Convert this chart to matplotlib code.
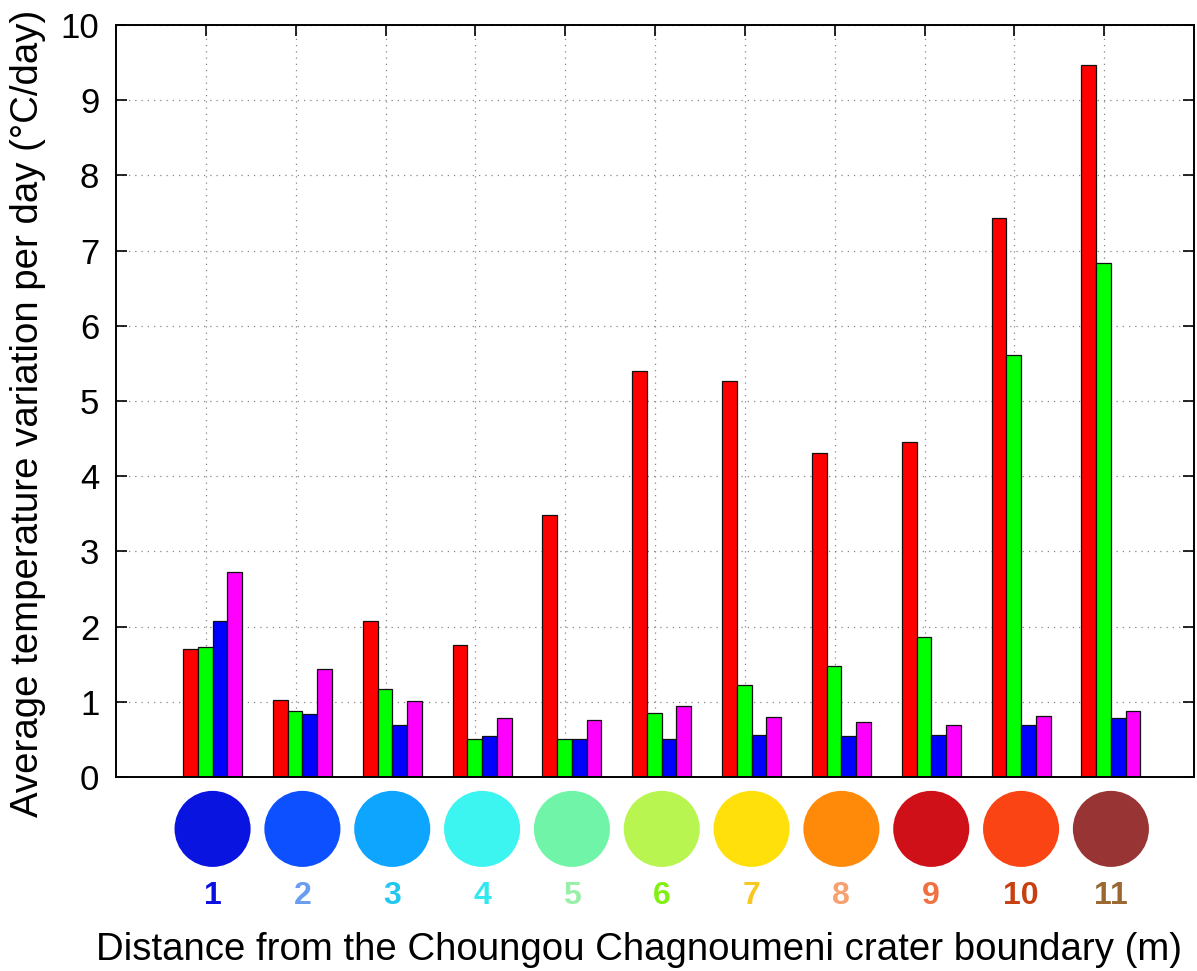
import numpy as np
import matplotlib
matplotlib.use("Agg")
import matplotlib.pyplot as plt

plt.rcParams['font.family'] = ['Liberation Sans', 'DejaVu Sans']

# ---- data ----
distances = [1, 2, 3, 4, 5, 6, 7, 8, 9, 10, 11]
series_red = [1.70, 1.02, 2.08, 1.75, 3.49, 5.40, 5.27, 4.31, 4.46, 7.44, 9.47]
series_green = [1.73, 0.88, 1.17, 0.51, 0.51, 0.85, 1.23, 1.47, 1.86, 5.61, 6.84]
series_blue = [2.07, 0.84, 0.69, 0.55, 0.50, 0.51, 0.565, 0.54, 0.565, 0.685, 0.78]
series_magenta = [2.73, 1.44, 1.01, 0.79, 0.76, 0.94, 0.80, 0.73, 0.685, 0.81, 0.88]
series_colors = ['#ff0000', '#00ff00', '#0000ff', '#ff00ff']
circle_colors = ['#0a14e0', '#0d50ff', '#0ea5ff', '#3cf5f0', '#70f5a8', '#b8f550',
                 '#ffe00a', '#ff8a0a', '#d01018', '#fa4414', '#983434']
label_colors = ['#0a10e0', '#6a9cf0', '#20c8f0', '#30e8f0', '#98f0a8', '#80f010',
                '#f8c820', '#f8a070', '#f07040', '#c84010', '#9a6830']
xlabel = 'Distance from the Choungou Chagnoumeni crater boundary (m)'
ylabel = 'Average temperature variation per day (°C/day)'

fig = plt.figure(figsize=(11.97, 9.71), dpi=100)
ax = fig.add_axes([116/1197, 1-777/971, (1194-116)/1197, (777-25)/971])

x = np.array(distances, dtype=float)
group_shift = 0.075
bw = 0.164
all_series = [series_red, series_green, series_blue, series_magenta]
for i, (vals, col) in enumerate(zip(all_series, series_colors)):
    ax.bar(x + group_shift + (i - 1.5) * bw, vals, width=bw, color=col,
           edgecolor='#101010', linewidth=0.9, zorder=3)

ax.set_xlim(0, 12)
ax.set_ylim(0, 10)
ax.set_xticks(distances)
ax.set_xticklabels([])
ax.set_yticks(range(0, 11))
ax.tick_params(axis='both', direction='in', length=8, width=1.2,
               top=True, right=True, labelsize=25, pad=12, colors='black')
ax.grid(True, linestyle=(0, (1, 4)), color='#888888', linewidth=0.9, zorder=0)
for s in ax.spines.values():
    s.set_linewidth(1.4)
    s.set_zorder(5)

# colour circles and distance labels under the axis
ax.scatter(x + group_shift, [-0.69] * len(x), s=3000, c=circle_colors,
           clip_on=False, linewidths=0, zorder=4)
for xi, lab, col in zip(x, distances, label_colors):
    ax.text(xi + group_shift, -1.58, str(lab), color=col, fontsize=23,
            fontweight='bold', ha='center', va='center', clip_on=False)

fig.text(639/1197, 1-960/971, xlabel, fontsize=27.6, ha='center', va='baseline')
fig.text(28/1197, 1-413/971, ylabel, fontsize=27.6, rotation=90,
         ha='center', va='center')

fig.savefig('out.png', dpi=100)
